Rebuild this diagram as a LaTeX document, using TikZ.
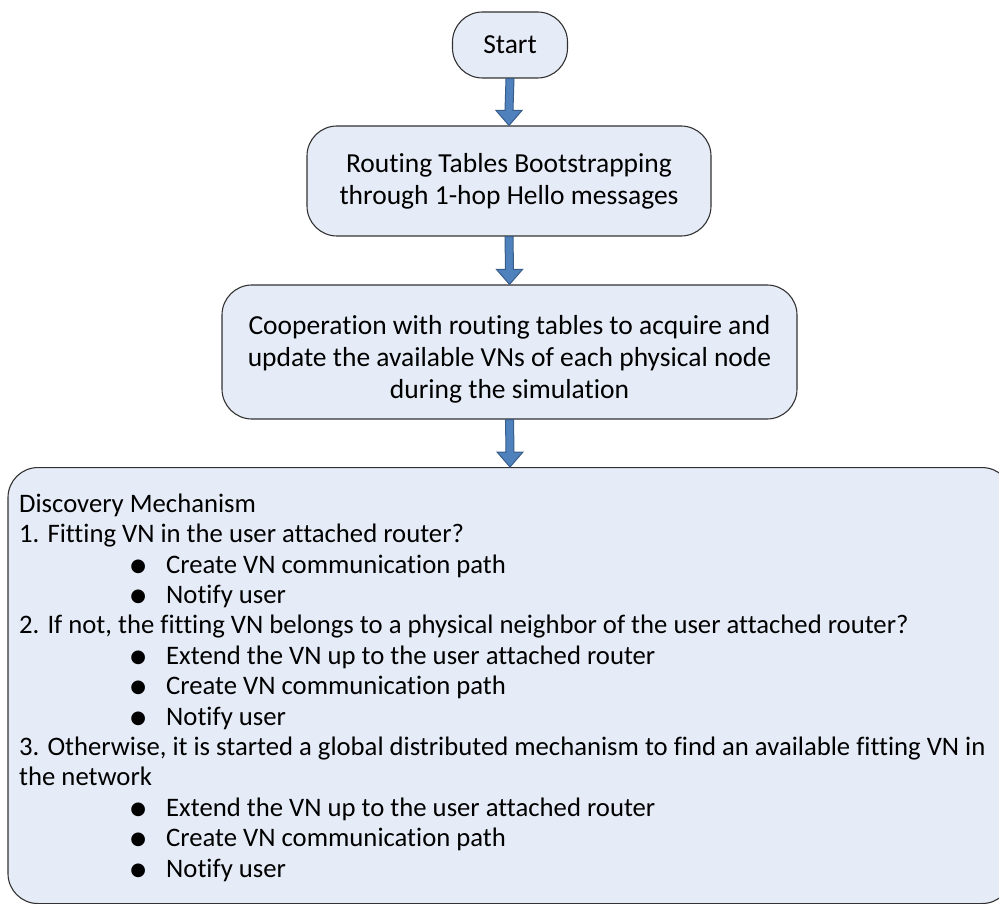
\documentclass[tikz,border=0pt]{standalone}
\usepackage{fontspec}
\setmainfont{Carlito}[Ligatures=CommonOff]
\newfontfamily\symfont{DejaVu Sans}
\usetikzlibrary{positioning,calc}

\definecolor{boxfill}{RGB}{230,236,247}
\definecolor{boxline}{RGB}{50,50,50}
\definecolor{arrowfill}{RGB}{79,129,189}
\definecolor{arrowline}{RGB}{56,93,138}

\newcommand{\boxfont}{\fontsize{27.5}{32}\selectfont}
\newcommand{\listfont}{\fontsize{26.7}{30.4}\selectfont}
\newcommand{\bigbullet}{\raisebox{2pt}{\fontsize{18}{18}\selectfont\symfont ●}}
\newcommand{\flowitem}{\hspace*{119pt}\makebox[0pt]{\bigbullet}\hspace*{28pt}}

% block arrow from the bottom of #1 to the top of #2
\newcommand{\flowarrow}[2]{%
	\draw[arrowbody] ($(#1.south)+(-4,0)$) -- ($(#2.north)+(-4,-15)$) -- ($(#2.north)+(-13,-15)$)
		-- (#2.north) -- ($(#2.north)+(13,-15)$) -- ($(#2.north)+(4,-15)$) -- ($(#1.south)+(4,0)$) -- cycle;}

\tikzset{
	flowbox/.style={draw=boxline, fill=boxfill, line width=1.1pt, rounded corners=30pt, align=center, inner sep=0pt, font=\boxfont},
	arrowbody/.style={fill=arrowfill, draw=arrowline, line width=1pt, line join=miter},
}

\begin{document}
\begin{tikzpicture}[x=1pt,y=-1pt]
	\clip (0,0) rectangle (999,904);

	\node[flowbox, minimum width=115pt, minimum height=66pt] (start) at (510,45) {Start};
	\node[flowbox, minimum width=404pt, minimum height=110pt] (boot) at (509,181) {Routing Tables Bootstrapping\\through 1-hop Hello messages};
	\node[flowbox, minimum width=575pt, minimum height=134pt] (coop) at (509.5,352) {\rule{0pt}{34pt}Cooperation with routing tables to acquire and\\update the available VNs of each physical node\\during the simulation};
	\node[flowbox, minimum width=1004pt, minimum height=436pt, anchor=north] (disc) at (510,467) {};

	\node[anchor=north west, align=left, inner sep=0pt, font=\listfont] (disctext) at (19,492) {%
		\rule{0pt}{20pt}Discovery Mechanism\\
		1. Fitting VN in the user attached router?\\
		\flowitem Create VN communication path\\
		\flowitem Notify user\\
		2. If not, the fitting VN belongs to a physical neighbor of the user attached router?\\
		\flowitem Extend the VN up to the user attached router\\
		\flowitem Create VN communication path\\
		\flowitem Notify user\\
		3. Otherwise, it is started a global distributed mechanism to find an available fitting VN in\\
		the network\\
		\flowitem Extend the VN up to the user attached router\\
		\flowitem Create VN communication path\\
		\flowitem Notify user};

	\flowarrow{start}{boot}
	\flowarrow{boot}{coop}
	\flowarrow{coop}{disc}
\end{tikzpicture}
\end{document}
